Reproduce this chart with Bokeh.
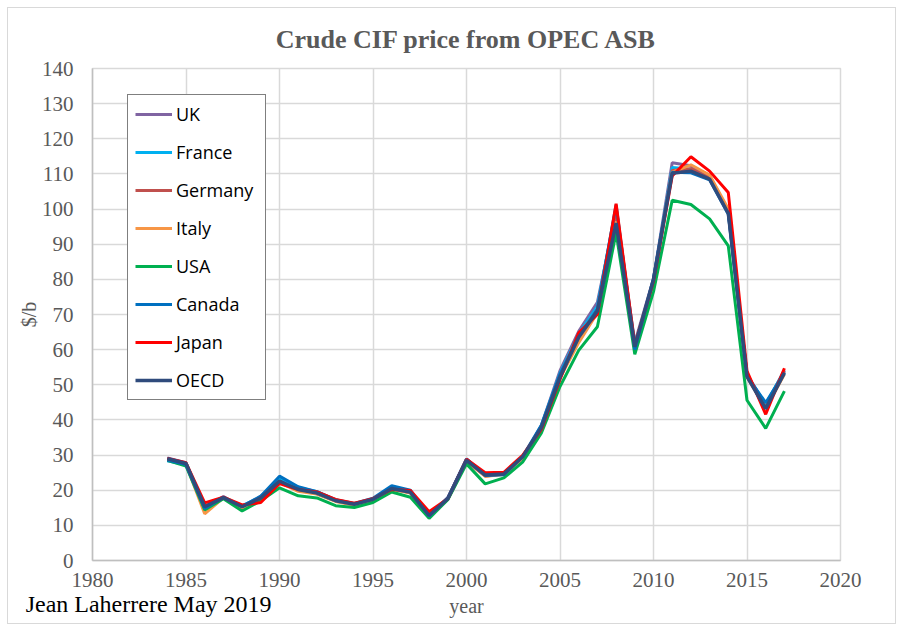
from bokeh.plotting import figure
from bokeh.models import Range1d, SingleIntervalTicker, FixedTicker, LinearAxis, Legend, LegendItem
from bokeh.embed import file_html
from bokeh.resources import INLINE

years = list(range(1984, 2018))

uk = [29.2, 27.8, 15.0, 18.2, 15.2, 18.3, 23.0, 20.3, 19.4, 17.1, 16.0, 17.3, 20.8, 19.3, 12.9, 17.9,
      28.8, 24.5, 25.0, 29.0, 38.4, 54.0, 65.2, 73.5, 99.0, 62.0, 80.2, 113.2, 112.3, 109.5, 99.5, 53.0, 44.0, 54.2]
france = [28.4, 27.2, 14.5, 18.0, 15.6, 18.0, 23.5, 20.8, 19.6, 17.2, 16.0, 17.5, 21.0, 19.6, 12.6, 17.6,
          28.8, 24.3, 24.8, 29.2, 38.3, 53.3, 64.5, 72.3, 100.5, 61.2, 79.8, 111.8, 111.3, 108.7, 99.2, 52.8, 44.5, 54.0]
germany = [28.7, 27.5, 15.5, 17.8, 15.0, 17.6, 22.5, 20.0, 19.0, 17.0, 15.8, 17.3, 20.4, 19.3, 12.9, 17.5,
           28.2, 24.0, 24.7, 29.3, 37.5, 52.8, 63.8, 71.5, 97.5, 61.0, 79.5, 111.0, 111.5, 108.8, 99.0, 52.8, 43.5, 53.8]
italy = [28.5, 27.3, 13.3, 17.8, 15.0, 17.5, 22.2, 19.7, 18.9, 16.8, 15.7, 17.2, 20.3, 19.2, 12.6, 17.4,
         28.3, 24.0, 24.5, 29.1, 37.4, 52.0, 62.0, 70.5, 96.5, 61.0, 79.5, 110.5, 112.6, 109.7, 100.0, 52.3, 43.2, 53.0]
usa = [28.5, 26.9, 14.4, 17.6, 14.1, 17.0, 20.7, 18.4, 17.8, 15.6, 15.1, 16.5, 19.5, 18.0, 12.0, 17.3,
       27.5, 21.8, 23.5, 28.0, 36.2, 49.5, 59.8, 66.5, 93.3, 58.7, 76.5, 102.5, 101.3, 97.2, 89.5, 45.6, 37.6, 48.2]
canada = [28.6, 27.3, 14.8, 18.0, 15.4, 18.3, 24.0, 21.0, 19.6, 17.3, 16.2, 17.7, 21.3, 20.0, 12.6, 17.8,
          28.9, 24.2, 24.4, 29.6, 38.5, 53.0, 63.6, 71.5, 101.2, 60.0, 80.3, 110.5, 110.3, 108.3, 98.5, 52.5, 44.9, 53.5]
japan = [29.0, 27.8, 16.4, 18.0, 15.8, 16.5, 21.9, 20.2, 19.5, 17.4, 16.3, 17.6, 20.2, 19.9, 13.9, 17.6,
         28.8, 25.0, 25.1, 29.9, 37.3, 51.5, 64.8, 70.0, 101.5, 61.3, 79.5, 109.4, 114.9, 110.8, 104.7, 53.9, 41.6, 54.7]
oecd = [29.0, 27.6, 15.3, 17.9, 15.3, 17.8, 22.6, 20.2, 19.2, 17.0, 16.0, 17.4, 20.5, 19.4, 12.8, 17.6,
        28.5, 24.3, 24.6, 29.5, 37.8, 52.2, 63.5, 71.0, 96.0, 60.8, 80.0, 110.2, 110.8, 108.5, 98.8, 52.3, 43.2, 53.4]

series_names = ["UK", "France", "Germany", "Italy", "USA", "Canada", "Japan", "OECD"]
series_values = [uk, france, germany, italy, usa, canada, japan, oecd]
series_colors = ["#8064A2", "#00B0F0", "#C0504D", "#F79646", "#00B050", "#0070C0", "#FF0000", "#2F4B7C"]

credit_text = "Jean Laherrere May 2019"
credit_year = 1983

GRAY = "#595959"
SERIF = "Liberation Serif"

p = figure(width=903, height=631, output_backend="svg", toolbar_location=None,
           x_range=Range1d(1980, 2020), y_range=Range1d(0, 140),
           min_border_left=92, min_border_right=63, min_border_top=68, min_border_bottom=71,
           title="Crude CIF price from OPEC ASB")
p.border_fill_color = None
p.styles = {"outline": "1px solid #d9d9d9", "outline-offset": "-8px"}

p.title.align = "center"
p.title.text_font = SERIF
p.title.text_font_size = "26px"
p.title.text_font_style = "bold"
p.title.text_color = GRAY
p.title.standoff = 30

p.outline_line_color = "#d9d9d9"
p.outline_line_width = 1.5

p.xaxis.ticker = SingleIntervalTicker(interval=5)
p.yaxis.ticker = SingleIntervalTicker(interval=10)
for ax in (p.xaxis[0], p.yaxis[0]):
    ax.major_tick_line_color = None
    ax.minor_tick_line_color = None
    ax.axis_line_color = "#bfbfbf"
    ax.axis_line_width = 1.5
    ax.major_label_text_font = SERIF
    ax.major_label_text_font_size = "21px"
    ax.major_label_text_color = GRAY
    ax.axis_label_text_font = SERIF
    ax.axis_label_text_font_size = "20px"
    ax.axis_label_text_font_style = "normal"
    ax.axis_label_text_color = GRAY
p.xaxis.axis_label = "year"
p.yaxis.axis_label = "$/b"
p.xaxis.major_label_standoff = 6
p.yaxis.major_label_standoff = 13
p.xaxis.axis_label_standoff = 5
p.yaxis.axis_label_standoff = -1

p.xgrid.grid_line_color = "#d9d9d9"
p.ygrid.grid_line_color = "#d9d9d9"
p.xgrid.grid_line_width = 1.5
p.ygrid.grid_line_width = 1.5

# second (label-only) axis below, carrying the author credit
credit_axis = LinearAxis(ticker=FixedTicker(ticks=[credit_year]),
                         major_label_overrides={credit_year: credit_text})
credit_axis.axis_line_color = None
credit_axis.major_tick_line_color = None
credit_axis.minor_tick_line_color = None
credit_axis.major_tick_out = 0
credit_axis.major_tick_in = 0
credit_axis.major_label_standoff = -29
credit_axis.major_label_text_font = SERIF
credit_axis.major_label_text_font_size = "24px"
credit_axis.major_label_text_color = "black"
p.add_layout(credit_axis, "below")

items = []
for name, vals, col in zip(series_names, series_values, series_colors):
    r = p.line(years, vals, line_color=col, line_width=3.5 if name == "OECD" else 3)
    items.append(LegendItem(label=name, renderers=[r]))

legend = Legend(items=items, location=(35, 160))
legend.border_line_color = "black"
legend.border_line_width = 1.5
legend.background_fill_color = "white"
legend.background_fill_alpha = 1
legend.padding = 7
legend.margin = 0
legend.spacing = 14
legend.glyph_height = 20
legend.glyph_width = 37
legend.label_height = 20
legend.label_width = 82
legend.label_standoff = 4
legend.label_text_font = "Open Sans"
legend.label_text_font_size = "18px"
legend.label_text_color = "black"
p.add_layout(legend, "center")

open("out.html", "w").write(file_html(p, INLINE))
